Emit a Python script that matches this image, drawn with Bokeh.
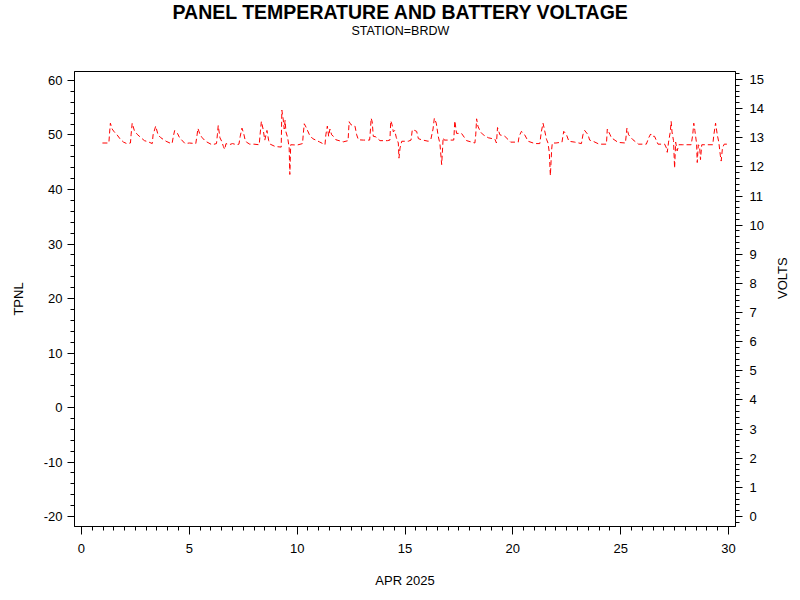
import math
from bokeh.plotting import figure
from bokeh.models import Range1d, LinearAxis, SingleIntervalTicker, Title, PrintfTickFormatter
from bokeh.embed import file_html
from bokeh.resources import INLINE

title_text = "PANEL TEMPERATURE AND BATTERY VOLTAGE"
subtitle_text = "STATION=BRDW"
x_label = "APR 2025"
left_label = "TPNL"
right_label = "VOLTS"

# time (day of April 2025) and battery voltage
day = [
    0.97, 1.27, 1.30, 1.34, 1.42, 1.52, 1.65, 1.80, 1.95, 2.10,
    2.27, 2.30, 2.35, 2.45, 2.58, 2.76, 2.92, 3.10, 3.28, 3.32,
    3.44, 3.55, 3.68, 3.92, 4.10, 4.20, 4.26, 4.32, 4.45, 4.55,
    4.80, 5.00, 5.30, 5.36, 5.40, 5.50, 5.60, 5.75, 6.05, 6.26,
    6.30, 6.34, 6.42, 6.50, 6.58, 6.64, 6.70, 6.85, 7.00, 7.20,
    7.30, 7.36, 7.44, 7.52, 7.58, 7.65, 7.80, 8.00, 8.24, 8.28,
    8.34, 8.42, 8.50, 8.60, 8.68, 8.75, 8.98, 9.26, 9.29, 9.35,
    9.40, 9.44, 9.48, 9.56, 9.63, 9.66, 9.70, 10.00, 10.25, 10.28,
    10.33, 10.42, 10.57, 10.72, 11.03, 11.29, 11.33, 11.40, 11.46, 11.52,
    11.60, 11.68, 11.80, 12.14, 12.36, 12.41, 12.49, 12.68, 12.76, 12.84,
    13.07, 13.36, 13.40, 13.43, 13.48, 13.53, 13.65, 13.84, 14.18, 14.30,
    14.34, 14.40, 14.46, 14.52, 14.60, 14.69, 14.72, 14.77, 14.85, 15.15,
    15.28, 15.34, 15.45, 15.54, 15.62, 15.77, 16.08, 16.20, 16.30, 16.36,
    16.45, 16.54, 16.62, 16.70, 16.77, 16.82, 17.08, 17.26, 17.31, 17.39,
    17.62, 17.86, 18.24, 18.28, 18.32, 18.38, 18.50, 18.63, 18.86, 19.17,
    19.24, 19.29, 19.40, 19.63, 19.90, 20.25, 20.29, 20.40, 20.55, 20.71,
    21.02, 21.25, 21.32, 21.40, 21.46, 21.56, 21.63, 21.69, 21.74, 21.80,
    21.83, 22.00, 22.28, 22.32, 22.36, 22.48, 22.60, 22.87, 23.18, 23.25,
    23.33, 23.49, 23.56, 23.72, 24.00, 24.34, 24.38, 24.50, 24.57, 24.88,
    25.22, 25.29, 25.37, 25.57, 25.83, 26.19, 26.30, 26.39, 26.45, 26.57,
    26.73, 27.04, 27.12, 27.16, 27.22, 27.30, 27.34, 27.38, 27.45, 27.50,
    27.55, 27.62, 27.70, 27.88, 28.27, 28.34, 28.39, 28.44, 28.52, 28.55,
    28.60, 28.66, 28.70, 28.76, 28.96, 29.27, 29.32, 29.40, 29.48, 29.55,
    29.62, 29.66, 29.72, 29.80, 30.00,
]
volts = [
    12.82, 12.82, 13.15, 13.50, 13.30, 13.20, 13.10, 12.95, 12.85, 12.80,
    12.82, 13.10, 13.50, 13.25, 13.12, 13.00, 12.90, 12.86, 12.80, 13.10,
    13.40, 13.10, 13.00, 12.88, 12.82, 12.80, 13.05, 13.25, 13.15, 13.00,
    12.80, 12.82, 12.80, 13.10, 13.32, 13.10, 13.00, 12.88, 12.76, 12.80,
    13.10, 13.42, 13.00, 12.88, 12.70, 12.60, 12.80, 12.76, 12.80, 12.76,
    12.78, 13.05, 13.33, 13.15, 12.95, 12.85, 12.78, 12.78, 12.76, 13.10,
    13.56, 13.30, 12.92, 13.25, 12.90, 12.78, 12.70, 12.68, 13.95, 13.65,
    13.30, 13.60, 13.20, 13.00, 12.65, 11.74, 12.76, 12.75, 12.80, 13.10,
    13.48, 13.35, 13.10, 12.97, 12.86, 12.76, 13.10, 13.40, 13.05, 13.30,
    13.10, 13.05, 12.93, 12.86, 12.90, 13.55, 13.45, 13.40, 13.10, 12.93,
    12.92, 12.92, 13.30, 13.67, 13.55, 13.05, 13.03, 12.90, 12.90, 12.92,
    13.58, 13.45, 13.20, 13.25, 13.00, 12.82, 12.30, 12.65, 12.88, 12.88,
    12.92, 13.28, 13.25, 13.22, 12.97, 12.93, 12.88, 12.95, 13.30, 13.67,
    13.50, 13.05, 12.80, 12.08, 13.00, 12.92, 12.92, 12.92, 13.58, 13.15,
    13.15, 12.90, 12.82, 13.10, 13.65, 13.40, 13.20, 13.10, 13.00, 12.95,
    12.82, 13.35, 13.10, 13.05, 12.85, 12.85, 13.05, 13.22, 13.10, 12.88,
    12.80, 12.80, 13.20, 13.50, 13.30, 12.95, 12.82, 12.50, 11.70, 12.60,
    12.82, 12.82, 12.85, 13.05, 13.22, 13.12, 12.88, 12.85, 12.80, 13.10,
    13.25, 13.10, 12.92, 12.88, 12.78, 12.78, 13.30, 13.12, 13.00, 12.84,
    12.82, 13.33, 13.10, 12.93, 12.78, 12.78, 13.00, 13.13, 13.05, 13.05,
    12.78, 12.78, 12.65, 12.50, 12.85, 13.20, 13.56, 13.20, 12.90, 11.96,
    12.85, 12.55, 12.76, 12.76, 12.76, 13.10, 13.50, 13.25, 12.80, 12.15,
    12.76, 12.70, 12.25, 12.76, 12.76, 12.76, 13.10, 13.50, 13.10, 12.85,
    12.40, 12.20, 12.65, 12.78, 12.78,
]

FONT = "'Liberation Sans', Arial, sans-serif"

p = figure(width=800, height=600,
           x_range=Range1d(-0.324, 30.324), y_range=Range1d(-21.83, 61.65),
           output_backend="svg", toolbar_location=None,
           min_border_left=74, min_border_right=64,
           min_border_top=70, min_border_bottom=74)
p.extra_y_ranges = {"volts": Range1d(-0.342, 15.274)}
p.xgrid.visible = False
p.ygrid.visible = False
p.outline_line_color = "black"
p.outline_line_width = 1
p.background_fill_color = "white"
p.border_fill_color = "white"

# main title (outermost), subtitle, and an empty spacer next to the frame
p.title.text = title_text
p.title.align = "left"
p.title.offset = 98
p.title.text_font = FONT
p.title.text_font_size = "19.5px"
p.title.text_font_style = "bold"
p.title.text_color = "black"
p.title.standoff = -3
spacer = Title(text=" ", text_font=FONT, text_font_size="12px", standoff=18)
p.add_layout(spacer, "above")
sub_title = Title(text=subtitle_text, align="left", offset=277,
                  text_font=FONT, text_font_size="12.5px",
                  text_font_style="normal", text_color="black", standoff=0)
p.add_layout(sub_title, "above")

right = LinearAxis(y_range_name="volts", axis_label=right_label)
p.add_layout(right, "right")

p.xaxis.ticker = SingleIntervalTicker(interval=5, num_minor_ticks=10)
p.yaxis[0].ticker = SingleIntervalTicker(interval=10, num_minor_ticks=5)
right.ticker = SingleIntervalTicker(interval=1, num_minor_ticks=5)
p.xaxis.axis_label = x_label
p.yaxis[0].axis_label = left_label

for ax in [p.xaxis[0], p.yaxis[0], right]:
    ax.formatter = PrintfTickFormatter(format="%d")
    ax.axis_line_color = "black"
    ax.major_tick_line_color = "black"
    ax.minor_tick_line_color = "black"
    ax.major_tick_in = 0
    ax.minor_tick_in = 0
    ax.major_tick_out = 7
    ax.minor_tick_out = 4
    ax.major_label_text_font = FONT
    ax.major_label_text_font_size = "13px"
    ax.major_label_text_color = "black"
    ax.axis_label_text_font = FONT
    ax.axis_label_text_font_size = "13px"
    ax.axis_label_text_font_style = "normal"
    ax.axis_label_text_color = "black"

p.xaxis[0].major_tick_out = 8
p.xaxis[0].major_label_standoff = 9
p.xaxis[0].axis_label_standoff = 17
p.yaxis[0].major_label_standoff = 5
p.yaxis[0].axis_label_standoff = 15
right.major_label_standoff = 7
right.axis_label_standoff = 16
right.axis_label_orientation = math.pi / 2

p.line(day, volts, y_range_name="volts", line_color="#ff0000",
       line_width=1, line_dash="5 3")

open("out.html", "w").write(file_html(p, INLINE))
